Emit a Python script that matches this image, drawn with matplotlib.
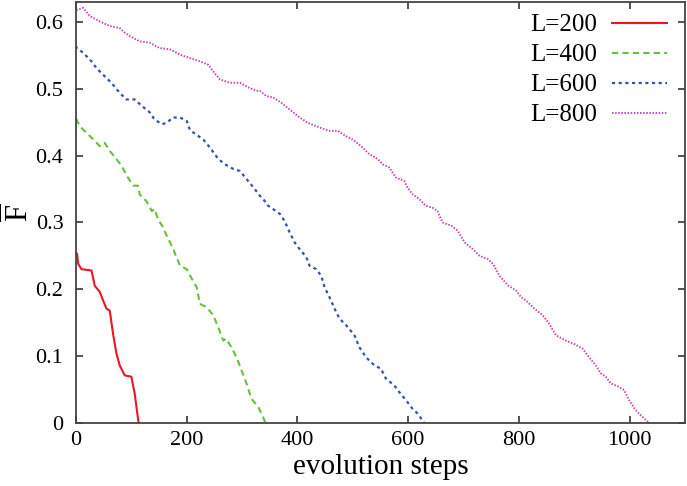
import matplotlib
matplotlib.use('Agg')
from matplotlib import pyplot as plt, rc
from matplotlib.ticker import FuncFormatter

# values
stepsL200 = [0, 2, 4, 10, 28, 34, 43, 49, 55, 61, 67, 73, 79, 88, 100, 106, 113]
fL200 = [0.254, 0.253, 0.238, 0.230, 0.228, 0.205, 0.196, 0.183, 0.171, 0.168,
         0.133, 0.104, 0.086, 0.071, 0.069, 0.044, 0.0]

stepsL400 = [0, 1, 7, 19, 28, 43, 52, 61, 73, 82, 94, 103, 112, 115, 127, 137,
             142, 148, 157, 166, 175, 179, 188, 200, 209, 218, 224, 236, 248,
             257, 266, 271, 281, 290, 299, 308, 317, 329, 338, 342]
fL400 = [0.455, 0.454, 0.444, 0.434, 0.427, 0.414, 0.419, 0.407, 0.395, 0.385,
         0.367, 0.355, 0.355, 0.342, 0.332, 0.317, 0.320, 0.305, 0.293, 0.276,
         0.262, 0.253, 0.235, 0.230, 0.216, 0.203, 0.178, 0.173, 0.161, 0.143,
         0.123, 0.126, 0.113, 0.098, 0.079, 0.059, 0.036, 0.024, 0.009, 0.0]

stepsL600 = [0, 1, 13, 28, 37, 49, 64, 79, 91, 106, 118, 133, 142, 155, 164,
             175, 188, 200, 206, 218, 230, 242, 257, 269, 284, 296, 308, 320,
             332, 341, 347, 356, 368, 377, 386, 395, 404, 416, 422, 434, 443,
             449, 458, 467, 476, 488, 503, 512, 524, 539, 551, 560, 575, 584,
             596, 608, 617, 629]
fL600 = [0.564, 0.561, 0.554, 0.541, 0.531, 0.521, 0.509, 0.494, 0.484, 0.484,
         0.475, 0.465, 0.454, 0.447, 0.449, 0.457, 0.457, 0.452, 0.438, 0.431,
         0.424, 0.412, 0.395, 0.387, 0.380, 0.377, 0.365, 0.353, 0.340, 0.332,
         0.325, 0.320, 0.313, 0.302, 0.285, 0.270, 0.260, 0.248, 0.235, 0.230,
         0.220, 0.203, 0.188, 0.171, 0.156, 0.146, 0.131, 0.113, 0.098, 0.086,
         0.081, 0.066, 0.056, 0.046, 0.034, 0.021, 0.014, 0.0]

stepsL800 = [0, 1, 13, 25, 43, 61, 79, 88, 97, 115, 133, 151, 170, 188, 206,
             224, 239, 248, 260, 278, 296, 314, 326, 332, 344, 356, 371, 386,
             404, 419, 440, 458, 473, 488, 500, 518, 530, 545, 554, 566, 578,
             593, 599, 608, 620, 632, 644, 653, 662, 678, 689, 702, 717, 729,
             744, 753, 765, 780, 795, 804, 813, 828, 843, 855, 867, 885, 900,
             915, 927, 939, 948, 957, 966, 981, 990, 999, 1011, 1023, 1035]
fL800 = [0.623, 0.618, 0.621, 0.609, 0.601, 0.594, 0.591, 0.584, 0.579, 0.571,
         0.569, 0.561, 0.559, 0.551, 0.546, 0.541, 0.536, 0.526, 0.514, 0.509,
         0.509, 0.501, 0.497, 0.497, 0.489, 0.487, 0.479, 0.469, 0.457, 0.449,
         0.442, 0.437, 0.437, 0.429, 0.424, 0.412, 0.402, 0.395, 0.387, 0.382,
         0.367, 0.362, 0.352, 0.342, 0.335, 0.325, 0.322, 0.317, 0.300, 0.295,
         0.288, 0.270, 0.260, 0.250, 0.245, 0.238, 0.220, 0.206, 0.198, 0.188,
         0.183, 0.171, 0.161, 0.148, 0.131, 0.123, 0.118, 0.111, 0.098, 0.086,
         0.074, 0.069, 0.059, 0.054, 0.049, 0.034, 0.019, 0.009, 0.0]

LABELS = ['L=200', 'L=400', 'L=600', 'L=800']

rc('font', family='Liberation Serif')
rc('mathtext', fontset='custom', rm='Liberation Serif')

fig, ax = plt.subplots(figsize=(6.87, 4.86), dpi=100)
fig.subplots_adjust(left=0.1106, right=0.997, bottom=0.13, top=0.996)

ax.plot(stepsL200, fL200, '-', color='#ee1520', lw=1.5, label=LABELS[0])
ax.plot(stepsL400, fL400, color='#66c23a', lw=1.5, dashes=(3, 2), label=LABELS[1])
ax.plot(stepsL600, fL600, color='#3352b0', lw=1.6, dashes=(1.4, 1.6), label=LABELS[2])
ax.plot(stepsL800, fL800, color='#c64bb2', lw=1.4, dashes=(0.8, 0.8), label=LABELS[3])

ax.set_xlim(0, 1100)
ax.set_ylim(0, 0.63)
ax.set_xticks([0, 200, 400, 600, 800, 1000])
ax.set_yticks([0, 0.1, 0.2, 0.3, 0.4, 0.5, 0.6])
ax.yaxis.set_major_formatter(FuncFormatter(lambda v, p: '0' if v == 0 else '%.1f' % v))

ax.tick_params(direction='in', top=True, right=True, length=5, width=1.3,
               color='#444444', labelsize=16, pad=6)
ax.tick_params(axis='y', pad=9)
for s in ax.spines.values():
    s.set_color('#444444')
    s.set_linewidth(1.3)

ax.set_xlabel('evolution steps', fontsize=21, labelpad=3)
ax.set_ylabel(r'$\overline{\mathrm{F}}$', fontsize=22, va='center')
ax.yaxis.set_label_coords(-0.094, 0.5)

ax.legend(loc='upper right', bbox_to_anchor=(1 - 6 / 609, 1), frameon=False,
          fontsize=18, markerfirst=False, handlelength=2.2, labelspacing=0.30,
          borderaxespad=0.08, handletextpad=0.6)

fig.savefig('out.png', dpi=100)
